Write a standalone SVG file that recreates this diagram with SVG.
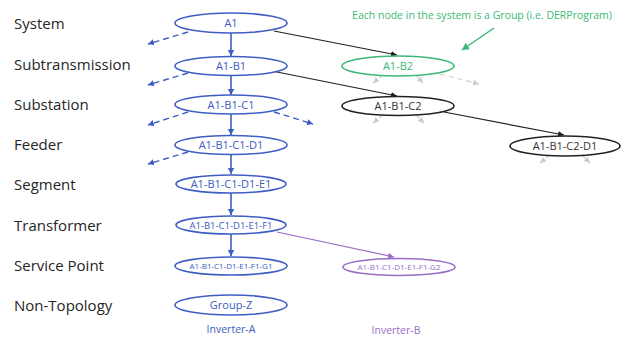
<svg xmlns="http://www.w3.org/2000/svg" width="622" height="339" viewBox="0 0 622 339">
<style>
text{font-family:"Open Sans","Liberation Sans",sans-serif}
.lvl{font-size:15px;fill:#262626}
.n{fill:#fff;stroke-width:1.6}
.blue{stroke:#3d5fc4}
.tb{fill:#3a5bbf;font-size:11px;text-anchor:middle}
.tk{fill:#333;font-size:11px;text-anchor:middle}
.tg{fill:#3cb878;font-size:11px;text-anchor:middle}
.tp{fill:#9a6cc8;text-anchor:middle}
.sv{stroke:#3d5fc4;stroke-width:1.6;fill:none}
.sd{stroke:#3d5fc4;stroke-width:1.4;fill:none;stroke-dasharray:6 4}
.sk{stroke:#222;stroke-width:1.2;fill:none}
.sp{stroke:#9a6cc8;stroke-width:1.2;fill:none}
.sg{stroke:#c8ccd4;stroke-width:1.2;fill:none;stroke-dasharray:5 4}
</style>
<defs>
<marker id="ab" markerWidth="8" markerHeight="8" refX="6" refY="4" orient="auto" markerUnits="userSpaceOnUse"><path d="M0,0.8 L6,4 L0,7.2z" fill="#3d5fc4"/></marker>
<marker id="ak" markerWidth="8" markerHeight="8" refX="6" refY="4" orient="auto" markerUnits="userSpaceOnUse"><path d="M0,1 L6,4 L0,7z" fill="#222"/></marker>
<marker id="ap" markerWidth="8" markerHeight="8" refX="6" refY="4" orient="auto" markerUnits="userSpaceOnUse"><path d="M0,1 L6,4 L0,7z" fill="#9a6cc8"/></marker>
<marker id="ag" markerWidth="8" markerHeight="8" refX="6" refY="4" orient="auto" markerUnits="userSpaceOnUse"><path d="M0,1 L6,4 L0,7z" fill="#c8ccd4"/></marker>
<marker id="agr" markerWidth="10" markerHeight="10" refX="7" refY="5" orient="auto" markerUnits="userSpaceOnUse"><path d="M0,1 L7,5 L0,9z" fill="#3cb878"/></marker>
</defs>

<g id="levels">
<text class="lvl" x="14" y="29">System</text>
<text class="lvl" x="14" y="70">Subtransmission</text>
<text class="lvl" x="14" y="110">Substation</text>
<text class="lvl" x="14" y="150">Feeder</text>
<text class="lvl" x="14" y="190">Segment</text>
<text class="lvl" x="14" y="231">Transformer</text>
<text class="lvl" x="14" y="271">Service Point</text>
<text class="lvl" x="14" y="311">Non-Topology</text>
</g>

<g id="connectors">
<line class="sv" x1="231" y1="33" x2="231" y2="56" marker-end="url(#ab)"/>
<line class="sv" x1="231" y1="75" x2="231" y2="95" marker-end="url(#ab)"/>
<line class="sv" x1="231" y1="114" x2="231" y2="135" marker-end="url(#ab)"/>
<line class="sv" x1="231" y1="154" x2="231" y2="174" marker-end="url(#ab)"/>
<line class="sv" x1="231" y1="193" x2="231" y2="215" marker-end="url(#ab)"/>
<line class="sv" x1="231" y1="234" x2="231" y2="256" marker-end="url(#ab)"/>
<line class="sd" x1="188" y1="32" x2="148" y2="44" marker-end="url(#ab)"/>
<line class="sd" x1="188" y1="73" x2="148" y2="85" marker-end="url(#ab)"/>
<line class="sd" x1="188" y1="112" x2="148" y2="125" marker-end="url(#ab)"/>
<line class="sd" x1="274" y1="112" x2="313" y2="124" marker-end="url(#ab)"/>
<line class="sd" x1="188" y1="152" x2="148" y2="164" marker-end="url(#ab)"/>
<line class="sk" x1="274" y1="31" x2="397" y2="55" marker-end="url(#ak)"/>
<line class="sk" x1="272" y1="71" x2="397" y2="96" marker-end="url(#ak)"/>
<line class="sk" x1="444" y1="112" x2="564" y2="135" marker-end="url(#ak)"/>
<line class="sp" x1="277" y1="232" x2="394" y2="257" marker-end="url(#ap)"/>
<line class="sg" x1="383" y1="75" x2="373" y2="83" marker-end="url(#ag)"/>
<line class="sg" x1="416" y1="75" x2="423" y2="83" marker-end="url(#ag)"/>
<line class="sg" x1="440" y1="74" x2="479" y2="84" marker-end="url(#ag)"/>
<line class="sg" x1="383" y1="115" x2="373" y2="123" marker-end="url(#ag)"/>
<line class="sg" x1="416" y1="115" x2="424" y2="123" marker-end="url(#ag)"/>
<line class="sg" x1="550" y1="155" x2="540" y2="163" marker-end="url(#ag)"/>
<line class="sg" x1="582" y1="155" x2="590" y2="163" marker-end="url(#ag)"/>
<line x1="494" y1="28" x2="462" y2="50" stroke="#3cb878" stroke-width="1.5" marker-end="url(#agr)"/>
</g>

<g id="A1"><ellipse class="n blue" cx="231" cy="23" rx="56" ry="10"/><text class="tb" x="231" y="27">A1</text></g>
<g id="A1-B1"><ellipse class="n blue" cx="231" cy="66" rx="56" ry="9.5"/><text class="tb" x="231" y="70">A1-B1</text></g>
<g id="A1-B1-C1"><ellipse class="n blue" cx="231" cy="104.5" rx="56" ry="9.5"/><text class="tb" x="231" y="108.5">A1-B1-C1</text></g>
<g id="A1-B1-C1-D1"><ellipse class="n blue" cx="231" cy="145" rx="56" ry="9.5"/><text class="tb" x="231" y="149">A1-B1-C1-D1</text></g>
<g id="A1-B1-C1-D1-E1"><ellipse class="n blue" cx="231" cy="184" rx="55" ry="9"/><text class="tb" x="231" y="188">A1-B1-C1-D1-E1</text></g>
<g id="A1-B1-C1-D1-E1-F1"><ellipse class="n blue" cx="231" cy="225" rx="55" ry="9"/><text class="tb" x="231" y="228.5" style="font-size:9.5px">A1-B1-C1-D1-E1-F1</text></g>
<g id="A1-B1-C1-D1-E1-F1-G1"><ellipse class="n blue" cx="231" cy="266" rx="56" ry="9"/><text class="tb" x="231" y="269" style="font-size:8px">A1-B1-C1-D1-E1-F1-G1</text></g>
<g id="Group-Z"><ellipse class="n blue" cx="231" cy="305" rx="56" ry="10"/><text class="tb" x="231" y="309">Group-Z</text></g>
<g id="A1-B2"><ellipse class="n" stroke="#3cb878" cx="398" cy="66" rx="56" ry="10"/><text class="tg" x="398" y="70">A1-B2</text></g>
<g id="A1-B1-C2"><ellipse class="n" stroke="#222" cx="398" cy="106" rx="56" ry="9.5"/><text class="tk" x="398" y="110">A1-B1-C2</text></g>
<g id="A1-B1-C2-D1"><ellipse class="n" stroke="#222" cx="565" cy="146" rx="55" ry="10"/><text class="tk" x="565" y="150">A1-B1-C2-D1</text></g>
<g id="A1-B1-C1-D1-E1-F1-G2"><ellipse class="n" stroke="#9a6cc8" stroke-width="1.3" cx="399" cy="267" rx="56" ry="8.5"/><text class="tp" x="399" y="270" style="font-size:8px">A1-B1-C1-D1-E1-F1-G2</text></g>

<g id="labels">
<text class="tb" x="231" y="333" style="font-size:10.5px">Inverter-A</text>
<text class="tp" x="396" y="334" style="font-size:10.5px">Inverter-B</text>
<text x="482" y="19" style="font-size:10.5px;fill:#3cb878;text-anchor:middle">Each node in the system is a Group (i.e. DERProgram)</text>
</g>
</svg>
